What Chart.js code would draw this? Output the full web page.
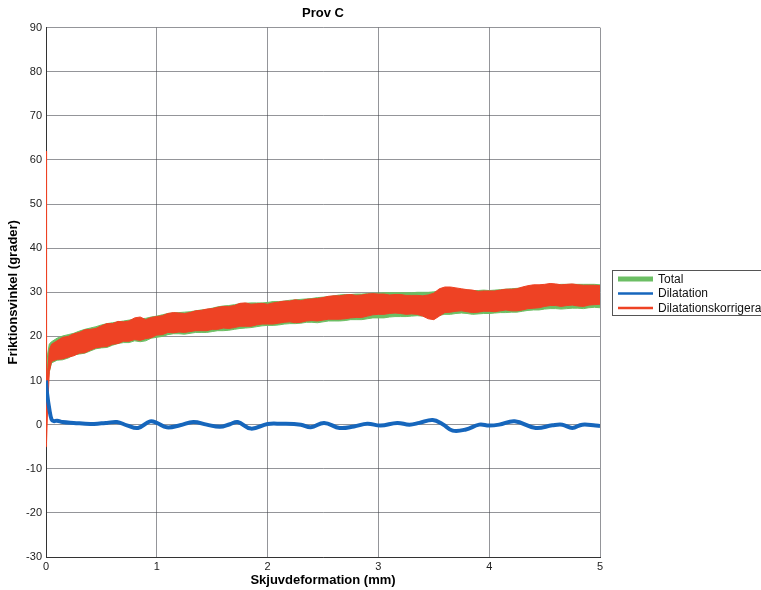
<!DOCTYPE html>
<html>
<head>
<meta charset="utf-8">
<title>Prov C</title>
<script src="https://cdn.jsdelivr.net/npm/chart.js@4"></script>
<style>
  html, body { margin: 0; padding: 0; background: #fff; }
  #wrap { width: 761px; height: 590px; }
</style>
</head>
<body>
<div id="wrap"><canvas id="provChart" width="761" height="590"></canvas></div>
<script>
// skjuvdeformation (mm) for the band edges
const bandX = [0, 0.005, 0.015, 0.03, 0.05, 0.1,
  0.15, 0.2, 0.25, 0.3, 0.35, 0.4, 0.45, 0.5, 0.55, 0.6, 0.65, 0.7, 0.75, 0.8, 0.85, 0.9, 0.95, 1.0,
  1.05, 1.1, 1.15, 1.2, 1.25, 1.3, 1.35, 1.4, 1.45, 1.5, 1.55, 1.6, 1.65, 1.7, 1.75, 1.8, 1.85, 1.9, 1.95, 2.0,
  2.05, 2.1, 2.15, 2.2, 2.25, 2.3, 2.35, 2.4, 2.45, 2.5, 2.55, 2.6, 2.65, 2.7, 2.75, 2.8, 2.85, 2.9, 2.95, 3.0,
  3.05, 3.1, 3.15, 3.2, 3.25, 3.3, 3.35, 3.4, 3.45, 3.5, 3.55, 3.6, 3.65, 3.7, 3.75, 3.8, 3.85, 3.9, 3.95, 4.0,
  4.05, 4.1, 4.15, 4.2, 4.25, 4.3, 4.35, 4.4, 4.45, 4.5, 4.55, 4.6, 4.65, 4.7, 4.75, 4.8, 4.85, 4.9, 4.95, 5.0];

// Total (green) - upper / lower edge of the noisy band
const totalHigh = [10, 12, 16, 18.3, 18.8, 19.6,
  20.1, 20.4, 20.7, 21.2, 21.6, 21.9, 22.2, 22.6, 22.9, 23.1, 23.3, 23.5, 23.7, 23.9, 24.0, 24.1, 24.4, 24.6,
  24.9, 25.2, 25.3, 25.4, 25.5, 25.6, 25.8, 26.0, 26.1, 26.4, 26.7, 26.9, 27.0, 27.2, 27.4, 27.5, 27.6, 27.6, 27.6, 27.7,
  27.9, 27.9, 28.0, 28.2, 28.3, 28.4, 28.5, 28.6, 28.8, 28.9, 29.0, 29.2, 29.4, 29.5, 29.5, 29.6, 29.6, 29.7, 29.8, 29.8,
  29.9, 29.9, 29.9, 29.9, 29.9, 29.9, 30.0, 30.0, 30.0, 30.1, 30.3, 30.5, 30.6, 30.6, 30.6, 30.5, 30.4, 30.4, 30.5, 30.4,
  30.5, 30.6, 30.7, 30.8, 30.9, 31.0, 31.2, 31.3, 31.5, 31.5, 31.6, 31.7, 31.8, 31.8, 31.8, 31.8, 31.8, 31.8, 31.8, 31.7];
const totalLow = [5, 6, 9, 12, 14, 14.6,
  14.7, 15.1, 15.8, 16.0, 16.2, 16.7, 17.2, 17.4, 17.5, 18.0, 18.4, 18.6, 18.6, 19.0, 18.8, 19.0, 19.6, 19.8,
  20.0, 20.4, 20.6, 20.6, 20.5, 20.7, 20.9, 20.9, 20.9, 21.1, 21.3, 21.3, 21.4, 21.6, 21.8, 21.9, 22.0, 22.2, 22.4, 22.5,
  22.5, 22.6, 22.8, 22.9, 22.9, 23.0, 23.2, 23.2, 23.1, 23.3, 23.5, 23.5, 23.5, 23.6, 23.8, 23.8, 23.8, 24.0, 24.2, 24.2,
  24.2, 24.4, 24.5, 24.5, 24.5, 24.6, 24.7, 24.6, 24.5, 24.3, 24.8, 25.0, 25.0, 25.2, 25.3, 25.2, 25.0, 25.1, 25.2, 25.2,
  25.3, 25.4, 25.4, 25.5, 25.5, 25.7, 25.9, 26.0, 26.0, 26.2, 26.3, 26.3, 26.2, 26.3, 26.4, 26.4, 26.3, 26.5, 26.6, 26.5];

// Dilatationskorrigerad (red) - upper / lower edge
const corrHigh = [62, 3, 12, 17, 18.2, 19.0,
  19.8, 20.0, 20.6, 20.9, 21.5, 21.6, 21.8, 22.4, 22.9, 22.9, 23.4, 23.3, 23.5, 24.2, 24.4, 23.8, 24.3, 24.5,
  24.7, 25.2, 25.4, 25.3, 25.2, 25.4, 25.8, 25.9, 26.2, 26.3, 26.6, 26.8, 26.8, 27.0, 27.5, 27.6, 27.3, 27.4, 27.5, 27.3,
  27.6, 27.8, 28.0, 28.0, 28.3, 28.1, 28.4, 28.5, 28.6, 28.8, 29.1, 29.2, 29.2, 29.4, 29.5, 29.3, 29.4, 29.6, 29.7, 29.6,
  29.6, 29.4, 29.5, 29.5, 29.3, 29.3, 29.3, 29.2, 29.4, 29.8, 30.8, 31.2, 31.2, 31.0, 30.8, 30.6, 30.5, 30.2, 30.3, 30.3,
  30.3, 30.5, 30.7, 30.7, 30.8, 31.2, 31.5, 31.7, 31.7, 31.8, 32.0, 31.9, 31.7, 31.8, 31.9, 31.7, 31.6, 31.6, 31.6, 31.5];
const corrLow = [-5, -4, 4, 12, 14.3, 14.8,
  14.9, 15.3, 15.6, 16.2, 16.3, 16.9, 17.4, 17.6, 17.7, 18.2, 18.4, 18.9, 18.9, 19.3, 19.1, 19.5, 19.7, 20.3,
  20.4, 20.9, 20.8, 21.0, 20.9, 21.1, 21.3, 21.3, 21.3, 21.6, 21.6, 21.9, 21.8, 22.0, 22.3, 22.3, 22.3, 22.6, 22.8, 22.8,
  22.8, 23.0, 23.2, 23.3, 23.1, 23.2, 23.5, 23.6, 23.5, 23.7, 23.9, 23.9, 23.9, 24.0, 24.2, 24.3, 24.3, 24.6, 24.9, 25.0,
  25.0, 25.2, 25.3, 25.2, 25.0, 25.1, 25.0, 24.6, 24.0, 23.8, 24.6, 25.4, 25.5, 25.7, 25.8, 25.6, 25.4, 25.5, 25.7, 25.7,
  25.6, 25.8, 26.0, 25.8, 25.8, 26.0, 26.3, 26.4, 26.5, 26.8, 27.0, 27.0, 26.8, 27.0, 27.1, 26.9, 26.8, 27.1, 27.2, 27.3];

// Dilatation (blue)
const dilX = [0, 0.01, 0.03, 0.05, 0.07, 0.1, 0.15, 0.25, 0.4, 0.5, 0.55, 0.64, 0.73, 0.83, 0.94, 1.0, 1.09,
  1.21, 1.33, 1.45, 1.57, 1.66, 1.73, 1.85, 2.0, 2.12, 2.3, 2.39, 2.51, 2.65, 2.78, 2.9, 3.02, 3.17, 3.28,
  3.37, 3.49, 3.58, 3.67, 3.79, 3.91, 4.0, 4.09, 4.23, 4.42, 4.57, 4.66, 4.75, 4.84, 4.96, 5.0];
const dilY = [10, 7, 3.5, 1.2, 0.8, 0.9, 0.6, 0.4, 0.15, 0.3, 0.4, 0.6, -0.15, -0.75, 0.75, 0.4, -0.6,
  -0.15, 0.6, 0, -0.5, 0.1, 0.6, -0.9, 0.15, 0.2, 0, -0.6, 0.4, -0.75, -0.4, 0.2, -0.2, 0.4, 0,
  0.4, 1.05, 0.1, -1.35, -1.1, 0, -0.2, 0, 0.75, -0.75, -0.15, 0, -0.75, 0, -0.2, -0.3];

const xTicks = [0, 1, 2, 3, 4, 5];
const yTicks = [-30, -20, -10, 0, 10, 20, 30, 40, 50, 60, 70, 80, 90];

const GREEN = 'rgb(108, 190, 100)';
const BLUE = 'rgb(22, 102, 188)';
const RED = 'rgb(238, 66, 36)';

const pts = (xs, ys) => xs.map((x, i) => ({ x: x, y: ys[i] }));

// legend drawn as a MATLAB-style box, clipped by the right edge
const legendBox = {
  id: 'legendBox',
  afterDraw(chart) {
    const ctx = chart.ctx;
    const items = chart.data.datasets.filter(ds => ds.label);
    ctx.save();
    ctx.fillStyle = '#fff';
    ctx.fillRect(612, 270, 160, 45);
    ctx.strokeStyle = '#555';
    ctx.lineWidth = 1;
    ctx.strokeRect(612.5, 270.5, 160, 45);
    ctx.font = '12px "Liberation Sans", Arial, sans-serif';
    ctx.textBaseline = 'middle';
    items.forEach((ds, i) => {
      const y = 279 + i * 14.5;
      ctx.strokeStyle = ds.legendColor;
      ctx.lineWidth = ds.legendWidth;
      ctx.beginPath();
      ctx.moveTo(618, y);
      ctx.lineTo(653, y);
      ctx.stroke();
      ctx.fillStyle = '#111';
      ctx.fillText(ds.label, 658, y + 0.5);
    });
    ctx.restore();
  }
};

const ctx = document.getElementById('provChart').getContext('2d');
new Chart(ctx, {
  type: 'line',
  data: {
    datasets: [
      {
        label: 'Total', legendColor: GREEN, legendWidth: 5,
        data: pts(bandX, totalHigh), borderColor: GREEN, backgroundColor: GREEN,
        borderWidth: 1, pointRadius: 0, fill: 1, order: 4
      },
      {
        label: '', data: pts(bandX, totalLow), borderColor: GREEN,
        borderWidth: 1, pointRadius: 0, fill: false, order: 5
      },
      {
        label: 'Dilatation', legendColor: BLUE, legendWidth: 2.5,
        data: pts(dilX, dilY), borderColor: BLUE, borderWidth: 4,
        pointRadius: 0, tension: 0.4, fill: false, order: 0
      },
      {
        label: 'Dilatationskorrigerad', legendColor: RED, legendWidth: 2.5,
        data: pts(bandX, corrHigh), borderColor: RED, backgroundColor: RED,
        borderWidth: 1, pointRadius: 0, fill: 4, order: 2
      },
      {
        label: '', data: pts(bandX, corrLow), borderColor: RED,
        borderWidth: 1, pointRadius: 0, fill: false, order: 3
      }
    ]
  },
  options: {
    responsive: false,
    animation: false,
    layout: { padding: { left: 0, right: 161, top: 0, bottom: 0 } },
    plugins: {
      legend: { display: false },
      tooltip: { enabled: false },
      title: {
        display: true,
        text: 'Prov C',
        fullSize: false,
        color: '#000',
        font: { family: '"Liberation Sans", Arial, sans-serif', size: 13, weight: 'bold' },
        padding: { top: 6, bottom: 6 }
      }
    },
    scales: {
      x: {
        type: 'linear',
        min: 0,
        max: 5,
        afterBuildTicks: scale => { scale.ticks = xTicks.map(v => ({ value: v })); },
        afterFit: scale => { scale.height = 33; },
        ticks: {
          color: '#222',
          padding: 3,
          font: { family: '"Liberation Sans", Arial, sans-serif', size: 11 }
        },
        grid: { color: 'rgba(60, 62, 70, 0.55)', drawTicks: false },
        border: { color: '#333' },
        title: {
          display: true,
          text: 'Skjuvdeformation (mm)',
          color: '#000',
          font: { family: '"Liberation Sans", Arial, sans-serif', size: 13, weight: 'bold' },
          padding: { top: 0, bottom: 2 }
        }
      },
      y: {
        min: -30,
        max: 90,
        afterBuildTicks: scale => { scale.ticks = yTicks.map(v => ({ value: v })); },
        afterFit: scale => { scale.width = 46; },
        ticks: {
          color: '#222',
          padding: 4,
          font: { family: '"Liberation Sans", Arial, sans-serif', size: 11 }
        },
        grid: { color: 'rgba(60, 62, 70, 0.55)', drawTicks: false },
        border: { color: '#333' },
        title: {
          display: true,
          text: 'Friktionsvinkel (grader)',
          color: '#000',
          font: { family: '"Liberation Sans", Arial, sans-serif', size: 13, weight: 'bold' },
          padding: { top: 6, bottom: 0 }
        }
      }
    }
  },
  plugins: [legendBox]
});
</script>
</body>
</html>
